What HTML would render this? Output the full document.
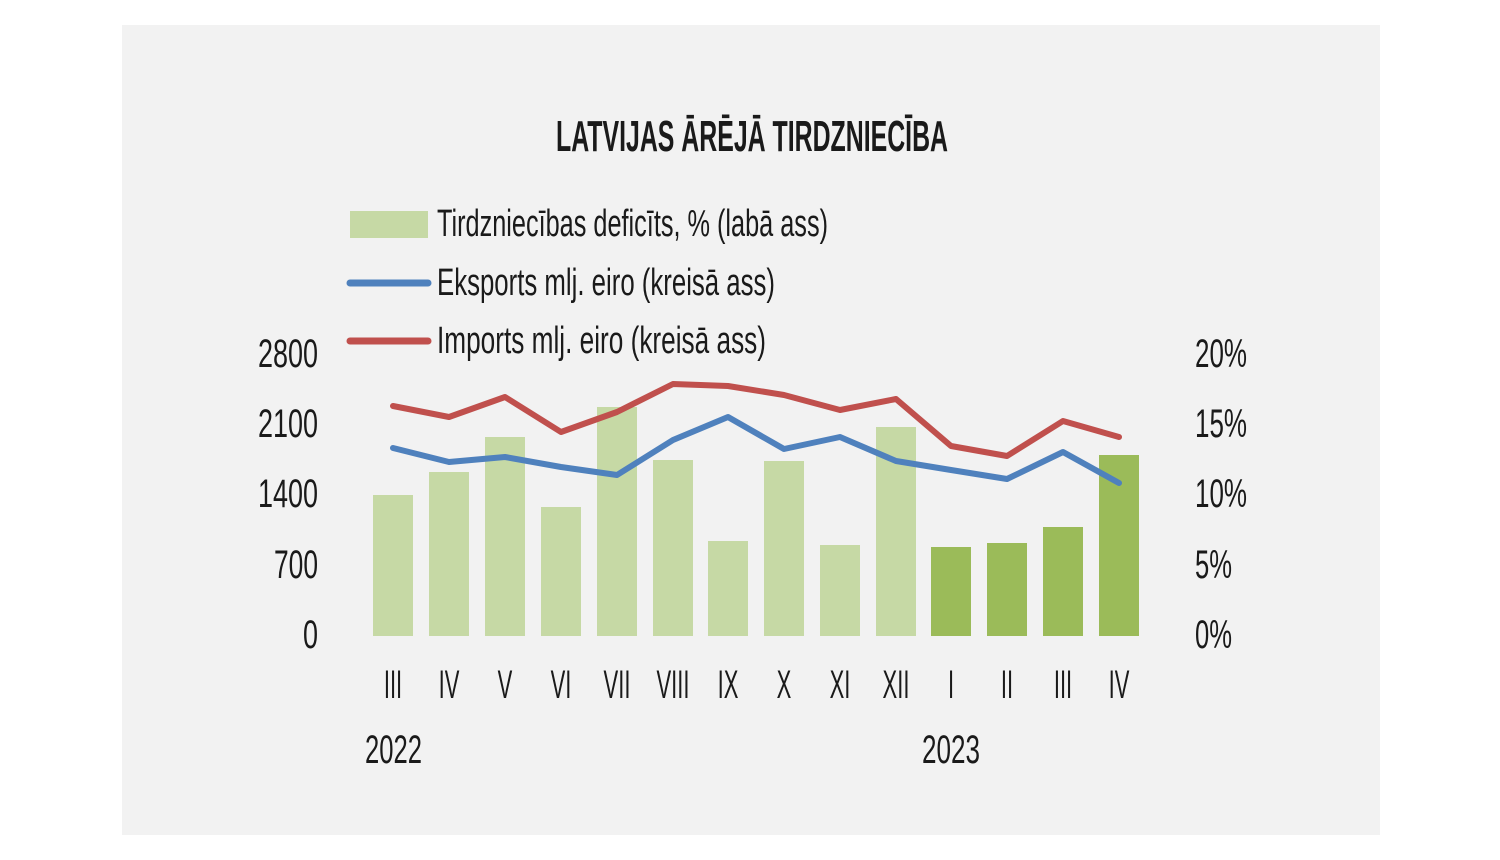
<!DOCTYPE html>
<html><head><meta charset="utf-8"><style>
html,body{margin:0;padding:0;background:#fff;}
svg{display:block}
text{font-family:"Liberation Sans Narrow","Liberation Sans",sans-serif;fill:#1a1a1a;}
</style></head><body>
<svg width="1500" height="860" viewBox="0 0 1500 860">
<rect x="122" y="25" width="1258" height="810" fill="#f2f2f2"/>
<text x="556" y="151" font-size="44" textLength="392" lengthAdjust="spacingAndGlyphs" font-weight="bold">LATVIJAS ĀRĒJĀ TIRDZNIECĪBA</text>
<rect x="350" y="211" width="78" height="27" fill="#c6d9a5"/>
<text x="437" y="236" font-size="38" textLength="391" lengthAdjust="spacingAndGlyphs">Tirdzniecības deficīts, % (labā ass)</text>
<line x1="350" y1="283" x2="428" y2="283" stroke="#4f81bd" stroke-width="7" stroke-linecap="round"/>
<text x="437" y="295" font-size="38" textLength="338" lengthAdjust="spacingAndGlyphs">Eksports mlj. eiro (kreisā ass)</text>
<line x1="350" y1="341" x2="428" y2="341" stroke="#c0504d" stroke-width="7" stroke-linecap="round"/>
<text x="437" y="353" font-size="38" textLength="329" lengthAdjust="spacingAndGlyphs">Imports mlj. eiro (kreisā ass)</text>
<g font-size="40" text-anchor="end">
<text x="318" y="367" textLength="60" lengthAdjust="spacingAndGlyphs">2800</text>
<text x="318" y="437" textLength="60" lengthAdjust="spacingAndGlyphs">2100</text>
<text x="318" y="507" textLength="60" lengthAdjust="spacingAndGlyphs">1400</text>
<text x="318" y="578" textLength="44" lengthAdjust="spacingAndGlyphs">700</text>
<text x="318" y="648" textLength="15" lengthAdjust="spacingAndGlyphs">0</text>
</g>
<g font-size="40">
<text x="1195" y="367" textLength="52" lengthAdjust="spacingAndGlyphs">20%</text>
<text x="1195" y="437" textLength="52" lengthAdjust="spacingAndGlyphs">15%</text>
<text x="1195" y="507" textLength="52" lengthAdjust="spacingAndGlyphs">10%</text>
<text x="1195" y="578" textLength="37" lengthAdjust="spacingAndGlyphs">5%</text>
<text x="1195" y="648" textLength="37" lengthAdjust="spacingAndGlyphs">0%</text>
</g>
<g fill="#c6d9a5">
<rect x="373" y="495" width="40" height="141"/>
<rect x="429" y="472" width="40" height="164"/>
<rect x="485" y="437" width="40" height="199"/>
<rect x="541" y="507" width="40" height="129"/>
<rect x="597" y="407" width="40" height="229"/>
<rect x="653" y="460" width="40" height="176"/>
<rect x="708" y="541" width="40" height="95"/>
<rect x="764" y="461" width="40" height="175"/>
<rect x="820" y="545" width="40" height="91"/>
<rect x="876" y="427" width="40" height="209"/>
</g>
<g fill="#9bbb59">
<rect x="931" y="547" width="40" height="89"/>
<rect x="987" y="543" width="40" height="93"/>
<rect x="1043" y="527" width="40" height="109"/>
<rect x="1099" y="455" width="40" height="181"/>
</g>
<polyline fill="none" stroke="#c0504d" stroke-width="6" stroke-linejoin="round" stroke-linecap="round" points="393,406 449,417 505,397 561,432 617,412 673,384 728,386 784,395 840,410 896,399 951,446 1007,456 1063,421 1119,437"/>
<polyline fill="none" stroke="#4f81bd" stroke-width="6" stroke-linejoin="round" stroke-linecap="round" points="393,448 449,462 505,457 561,467 617,475 673,440 728,417 784,449 840,437 896,461 951,470 1007,479 1063,452 1119,483"/>
<g font-size="40" text-anchor="middle">
<text transform="translate(393,698) scale(0.55,1)">III</text>
<text transform="translate(449,698) scale(0.55,1)">IV</text>
<text transform="translate(505,698) scale(0.55,1)">V</text>
<text transform="translate(561,698) scale(0.55,1)">VI</text>
<text transform="translate(617,698) scale(0.55,1)">VII</text>
<text transform="translate(673,698) scale(0.55,1)">VIII</text>
<text transform="translate(728,698) scale(0.55,1)">IX</text>
<text transform="translate(784,698) scale(0.55,1)">X</text>
<text transform="translate(840,698) scale(0.55,1)">XI</text>
<text transform="translate(896,698) scale(0.55,1)">XII</text>
<text transform="translate(951,698) scale(0.55,1)">I</text>
<text transform="translate(1007,698) scale(0.55,1)">II</text>
<text transform="translate(1063,698) scale(0.55,1)">III</text>
<text transform="translate(1119,698) scale(0.55,1)">IV</text>
</g>
<text x="365" y="763" font-size="40" textLength="57" lengthAdjust="spacingAndGlyphs">2022</text>
<text x="922" y="763" font-size="40" textLength="58" lengthAdjust="spacingAndGlyphs">2023</text>
</svg>
</body></html>
